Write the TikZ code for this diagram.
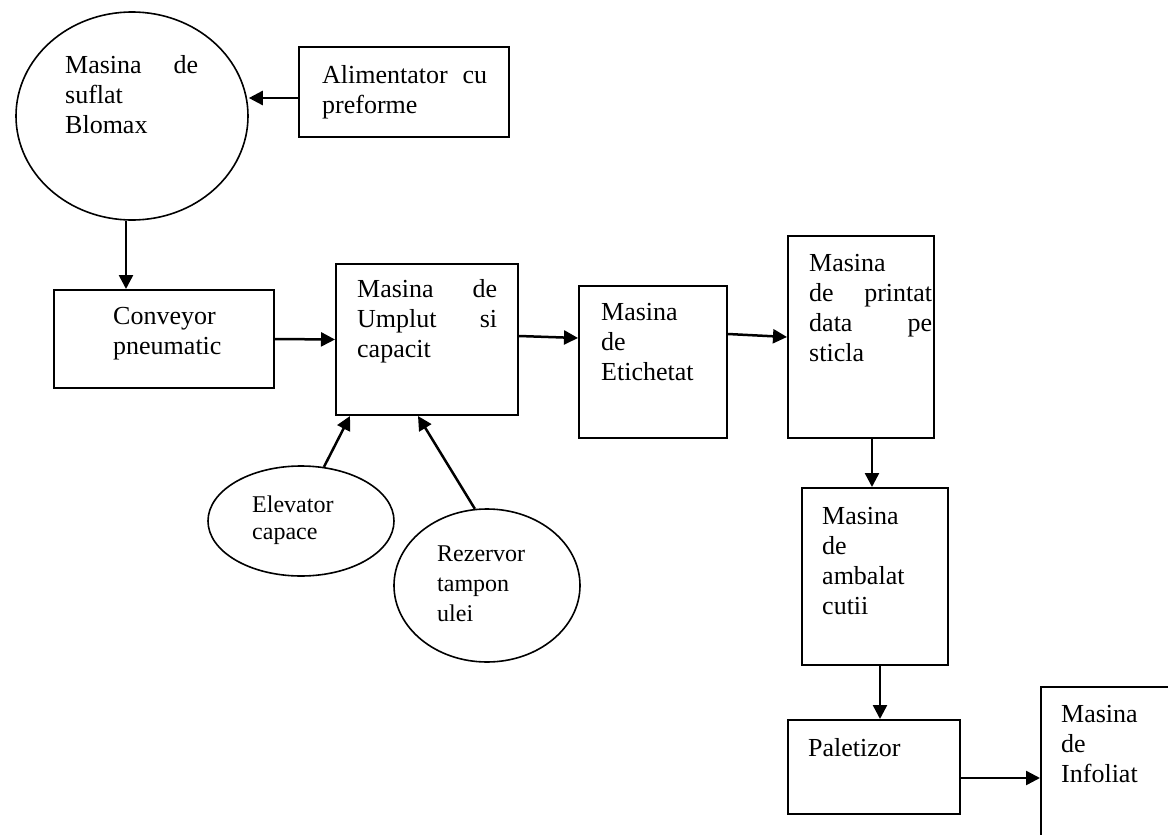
\documentclass[tikz,border=0pt]{standalone}
\usepackage{fontspec}
\setmainfont{Liberation Serif}
\usetikzlibrary{shapes.geometric,arrows.meta}
\begin{document}
\begin{tikzpicture}[x=1pt, y=-1pt, inner sep=0pt,
  box/.style={rectangle, draw, line width=2pt},
  blob/.style={ellipse, draw, line width=1.6pt},
  txt/.style={anchor=north west, align=left, font=\fontsize{26}{30}\selectfont},
  small/.style={anchor=north west, align=left, font=\fontsize{24}{27}\selectfont},
  arr/.style={line width=2.5pt, -{Triangle[length=14pt, width=14pt]}}]
\clip (0,0) rectangle (1168,835);
% machines
\node[blob, minimum width=232, minimum height=208] (blomax) at (132,116) {};
\node[box, minimum width=210, minimum height=90] (aliment) at (404,92) {};
\node[box, minimum width=220, minimum height=98] (conveyor) at (164,339) {};
\node[box, minimum width=182, minimum height=151] (umplere) at (427,339.5) {};
\node[box, minimum width=148, minimum height=152] (etichetat) at (653,362) {};
\node[box, minimum width=146, minimum height=202] (printat) at (861,337) {};
\node[box, minimum width=146, minimum height=177] (ambalat) at (875,576.5) {};
\node[box, minimum width=172, minimum height=94] (paletizor) at (874,767) {};
\node[box, minimum width=160, minimum height=200] (infoliat) at (1121,787) {};
\node[blob, minimum width=186, minimum height=110] (elevator) at (301,521) {};
\node[blob, minimum width=186, minimum height=153] (rezervor) at (487,585.5) {};
% labels
\node[txt, text width=133] (blomax-txt) at (65,55) {Masina \hfill de\\suflat\\Blomax};
\node[txt, text width=165] (aliment-txt) at (322,65) {Alimentator \hfill cu\\preforme};
\node[txt] (conveyor-txt) at (113,307) {Conveyor\\pneumatic};
\node[txt, text width=140] (umplere-txt) at (357,279) {Masina \hfill de\\Umplut \hfill si\\capacit};
\node[txt] (etichetat-txt) at (601,303.5) {Masina\\de\\Etichetat};
\node[txt, text width=123] (printat-txt) at (809,254.5) {Masina\\de \hfill printat\\data \hfill pe\\sticla};
\node[txt] (ambalat-txt) at (822,507.5) {Masina\\de\\ambalat\\cutii};
\node[txt] (paletizor-txt) at (808,738) {Paletizor};
\node[txt] (infoliat-txt) at (1061,705.5) {Masina\\de\\Infoliat};
\node[small] (elevator-txt) at (252,495.6) {Elevator\\capace};
\node[small, font=\fontsize{24}{30}\selectfont] (rezervor-txt) at (437,546) {Rezervor\\tampon\\ulei};
% flow
\draw[arr] ([yshift=-6pt]aliment.west) -- ([yshift=-6pt]aliment.west -| blomax.east);
\draw[arr] ([xshift=-6pt]blomax.south) -- ([xshift=-6pt]blomax.south |- conveyor.north);
\draw[arr] (conveyor.east) -- (umplere.west);
\draw[arr] ([yshift=3.5pt]umplere.east) -- ([yshift=24pt]etichetat.west);
\draw[arr] ([yshift=28pt]etichetat.east) -- (printat.west);
\draw[arr] ([xshift=11pt]printat.south) -- ([xshift=-3pt]ambalat.north);
\draw[arr] ([xshift=5pt]ambalat.south) -- ([xshift=6pt]paletizor.north);
\draw[arr] ([yshift=-11pt]paletizor.east) -- ([yshift=-11pt]paletizor.east -| infoliat.west);
\draw[arr] (elevator.67) -- ([xshift=-77pt]umplere.south);
\draw[arr] (rezervor.99) -- ([xshift=-9pt]umplere.south);
\end{tikzpicture}
\end{document}
